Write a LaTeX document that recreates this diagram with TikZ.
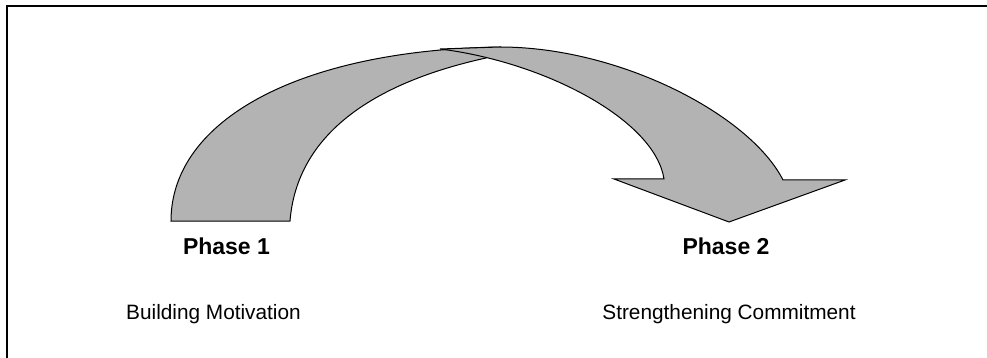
\documentclass[tikz,border=0pt]{standalone}
\usepackage{fontspec}
\setmainfont{Liberation Sans}
\definecolor{bandgray}{HTML}{B3B3B3}
\begin{document}
\begin{tikzpicture}[x=1pt,y=-1pt,
  band/.style={fill=bandgray,draw=black,line width=1pt,line join=miter},
  frame/.style={draw=black,line width=2.8pt},
  phase/.style={anchor=base,font=\fontsize{23}{26}\selectfont\bfseries,inner sep=0pt},
  caption/.style={anchor=base,font=\fontsize{20.8}{24}\selectfont,inner sep=0pt}]
\useasboundingbox (0,0) rectangle (987,358);
\fill[white] (0,0) rectangle (987,358);
% frame (right and bottom edges lie outside the picture)
\draw[frame] (7,360) -- (7,6) -- (990,6);
% Phase 1 band
\path[band] (171,221) -- (290,221)
  .. controls (298,122) and (395,78) .. (486,58)
  -- (500,47)
  .. controls (300,50) and (171,120) .. (171,221) -- cycle;
% Phase 2 arrow
\path[band] (440,49) -- (500,47)
  .. controls (620,47) and (750,115) .. (783,180)
  -- (845,180) -- (729,222) -- (614,179) -- (664,179)
  .. controls (655,120) and (545,62) .. (440,49) -- cycle;
% labels
\node[phase] (p1) at (226.5,254) {Phase 1};
\node[phase] (p2) at (726,254) {Phase 2};
\node[caption] (c1) at (213.5,319) {Building Motivation};
\node[caption] (c2) at (729,319) {Strengthening Commitment};
\end{tikzpicture}
\end{document}
